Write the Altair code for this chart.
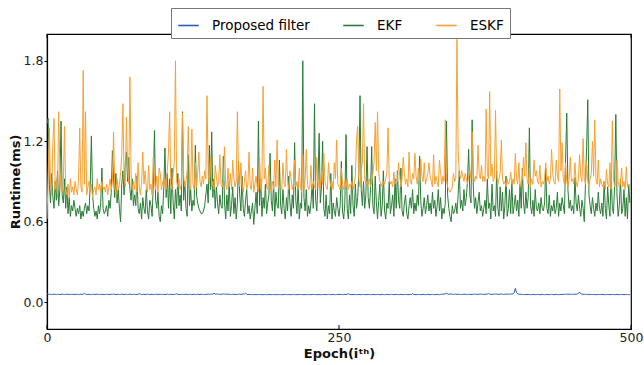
import altair as alt
import pandas as pd

series_names = ["Proposed filter", "EKF", "ESKF"]
series_colors = ["#2f5db5", "#2a7d36", "#f7a133"]
x_ticks = [0, 250, 500]
y_ticks = [0.0, 0.6, 1.2, 1.8]

# Proposed filter runtime, in 1/1000 ms, 25 epochs per row
proposed_rows = [
    [64,60,58,59,57,58,60,58,57,59,58,57,58,60,59,57,58,58,60,58,57,59,58,57,58],
    [59,58,57,58,60,58,59,66,60,58,57,59,58,57,58,59,57,58,60,58,57,58,59,58,57],
    [58,59,57,58,57,59,58,60,58,57,58,59,57,58,60,58,57,59,58,57,58,60,58,57,59],
    [58,57,59,58,64,59,57,58,59,57,58,60,58,57,58,59,57,58,58,60,57,58,59,57,58],
    [59,57,58,60,58,57,59,58,57,58,59,63,58,57,58,59,57,58,57,59,58,57,58,59,57],
    [58,59,57,58,60,58,57,59,58,57,58,57,59,60,58,61,59,60,68,60,62,59,61,58,59],
    [60,62,59,61,58,60,59,58,57,58,59,58,57,58,59,60,58,59,62,60,68,59,57,58,57],
    [57,56,57,56,57,56,57,57,56,57,56,57,56,57,56,57,57,56,57,56,57,56,57,56,57],
    [56,57,56,57,58,57,56,57,56,57,56,58,57,56,57,56,57,58,56,57,56,57,56,57,56],
    [57,56,57,58,57,56,57,56,57,56,57,56,58,57,56,57,58,57,56,57,58,57,56,57,58],
    [57,58,57,56,57,58,57,59,63,58,57,56,57,58,57,56,57,58,57,56,57,58,57,56,57],
    [58,57,56,57,58,57,56,57,58,57,56,57,58,57,56,57,58,57,56,57,58,57,56,57,58],
    [57,56,57,58,57,56,57,58,57,56,57,58,57,64,58,57,56,57,58,57,56,57,58,57,56],
    [57,58,57,56,57,58,57,56,57,58,57,56,58,60,59,62,60,70,61,59,60,62,59,58,60],
    [59,58,60,59,58,57,59,58,60,58,57,59,58,57,58,59,60,58,59,58,60,59,61,59,58],
    [60,59,61,64,60,59,58,60,59,61,60,59,58,60,62,59,58,60,59,61,60,59,62,60,63],
    [70,103,72,62,60,58,59,57,58,57,58,57,58,57,56,57,58,57,56,57,58,57,56,57,58],
    [57,56,57,58,57,56,57,58,57,56,57,58,57,56,57,58,57,58,59,58,59,60,59,58,59],
    [58,59,60,59,62,65,76,63,60,59,58,59,58,57,58,57,58,57,58,57,56,57,58,57,58],
    [57,58,57,56,57,58,57,56,57,58,57,56,57,58,57,56,57,58,57,56,57,58,57,56,57],
]

# EKF runtime, in 1/100 ms
ekf_rows = [
    [133,137,88,74,96,79,70,90,76,98,72,84,135,80,74,92,70,86,66,78,64,72,68,76,70],
    [64,70,66,72,62,68,64,70,74,66,72,68,88,124,80,70,64,68,62,72,66,74,100,70,66],
    [68,72,64,76,70,82,113,92,78,96,74,84,70,60,88,98,80,104,112,90,108,84,76,92,72],
    [80,72,94,70,66,74,62,78,70,66,84,68,62,76,72,64,88,128,76,70,82,64,60,72,66],
    [86,115,78,96,70,92,66,100,74,62,84,70,96,72,80,68,142,76,90,70,64,110,72,84,68],
    [76,72,117,80,74,70,68,66,66,68,72,80,88,74,117,84,127,78,92,70,86,74,66,80,72],
    [70,109,74,62,80,68,90,64,72,86,66,78,62,74,105,80,68,94,70,64,76,84,66,72,62],
    [68,74,58,70,82,66,135,72,92,64,78,70,88,66,74,80,111,76,68,90,64,82,72,70,106],
    [72,66,84,70,62,78,68,94,74,64,80,70,119,76,66,88,62,74,70,180,78,68,84,64,72],
    [66,74,88,70,148,76,68,90,126,74,86,120,70,64,80,62,72,66,96,62,74,68,64,78,70],
    [64,72,105,68,62,74,125,70,62,80,66,102,72,64,88,70,78,96,154,84,72,90,70,80,116],
    [78,70,84,116,72,66,94,74,62,76,88,64,72,98,68,62,74,70,90,66,72,80,64,92,70],
    [98,76,70,100,68,64,74,80,66,62,72,78,70,84,66,74,68,80,72,109,76,64,70,78,66],
    [72,80,68,74,66,82,70,76,64,72,84,68,78,62,70,66,74,135,80,70,64,60,72,66,68],
    [74,66,80,98,70,76,68,84,72,78,90,114,80,74,136,86,70,78,66,74,82,68,72,64,70],
    [76,66,92,70,74,62,88,68,72,64,98,70,64,86,68,82,62,72,94,64,70,84,66,90,66],
    [72,80,68,76,64,88,70,100,74,66,82,70,78,130,72,66,76,64,84,70,68,74,66,78,70],
    [68,74,100,70,66,80,64,72,68,76,66,70,82,64,74,68,78,72,66,106,141,84,70,76,68],
    [72,66,93,74,68,80,70,64,76,70,60,88,116,151,80,72,66,78,70,64,74,68,82,70,66],
    [74,64,90,70,62,86,72,64,96,70,66,88,140,80,64,72,92,66,70,84,64,78,62,88,74],
]

# ESKF runtime, in 1/100 ms
eskf_rows = [
    [62,96,130,88,80,118,137,84,92,78,142,100,86,82,90,131,84,80,88,78,92,82,86,80,90],
    [84,80,92,130,86,82,173,88,142,80,86,90,82,88,78,84,86,80,92,84,88,82,90,84,86],
    [82,88,80,86,92,84,90,127,86,80,92,84,88,96,110,148,92,86,138,100,88,168,96,84,90],
    [84,96,82,104,86,80,90,112,88,98,86,82,102,84,88,80,108,90,84,94,82,100,96,84,90],
    [86,92,84,98,112,142,88,84,96,104,180,90,86,92,84,88,141,94,86,90,98,131,88,84,129],
    [88,84,104,86,96,112,90,86,94,88,98,92,154,96,88,108,86,90,84,102,94,86,90,110,88],
    [86,90,116,88,84,100,86,96,84,106,92,86,90,142,94,86,104,88,82,90,98,84,88,112,86],
    [84,100,82,88,94,86,82,108,84,90,161,92,100,86,84,102,82,86,90,84,106,86,121,88,84],
    [86,84,104,88,86,114,90,84,98,92,84,88,106,86,90,84,100,86,82,110,84,92,114,88,84],
    [86,102,84,90,86,84,108,92,86,84,98,88,111,90,86,84,104,92,86,90,84,104,92,121,88],
    [86,84,100,88,84,90,86,92,84,88,86,90,84,88,94,121,131,92,86,98,104,148,92,88,90],
    [88,92,86,90,96,104,134,98,142,96,90,88,86,90,88,92,96,130,92,88,90,86,97,88,92],
    [90,104,94,86,92,108,96,88,92,86,112,90,88,96,92,111,94,88,100,90,107,94,90,104,88],
    [92,96,104,94,90,86,110,88,94,90,86,106,96,88,94,90,136,92,86,84,82,84,86,96,90],
    [92,196,114,96,92,98,94,90,96,92,88,94,98,92,127,96,90,94,92,117,96,92,102,90,94],
    [90,144,96,92,157,94,103,90,92,143,94,88,92,96,121,92,88,90,86,92,88,90,97,88,92],
    [88,111,92,88,104,86,90,92,108,94,119,92,88,100,86,92,88,106,94,98,90,88,102,86,90],
    [88,92,104,90,94,88,92,114,96,90,88,106,94,90,159,98,119,92,88,104,90,86,92,108,90],
    [92,88,104,90,86,92,110,94,90,122,92,88,104,90,86,92,96,120,94,136,92,88,106,86,92],
    [88,86,90,84,99,88,86,104,84,135,92,86,88,106,90,86,88,100,86,90,84,101,86,88,84],
]

proposed = [v / 1000 for row in proposed_rows for v in row]
ekf = [v / 100 for row in ekf_rows for v in row]
eskf = [v / 100 for row in eskf_rows for v in row]

frames = []
for name, vals in zip(series_names, [proposed, ekf, eskf]):
    frames.append(pd.DataFrame({"epoch": list(range(len(vals))), "runtime": vals, "series": name}))
df = pd.concat(frames, ignore_index=True)

color = alt.Color(
    "series:N",
    scale=alt.Scale(domain=series_names, range=series_colors),
    sort=series_names,
    legend=alt.Legend(
        title=None,
        orient="none",
        legendX=124,
        legendY=-26,
        direction="horizontal",
        symbolType="stroke",
        symbolSize=420,
        symbolStrokeWidth=1.6,
        labelFontSize=13.5,
        labelOffset=12,
        columnPadding=30,
        padding=6,
        strokeColor="#777777",
        fillColor="white",
        labelFont="DejaVu Sans",
    ),
)

x_enc = alt.X(
    "epoch:Q",
    scale=alt.Scale(domain=[0, 500], nice=False, zero=False),
    axis=alt.Axis(values=x_ticks, title="Epoch(iᵗʰ)", format="d", ticks=False,
                  labelFlush=False, labelPadding=2, titlePadding=4),
)
y_enc = alt.Y(
    "runtime:Q",
    scale=alt.Scale(domain=[-0.2, 2.0], nice=False, zero=False),
    axis=alt.Axis(values=y_ticks, format=".1f", title="Runtime(ms)", tickSize=3,
                  labelFlush=False, labelPadding=1, titlePadding=1),
)

layers = []
for name in series_names:
    layers.append(
        alt.Chart(df)
        .transform_filter(alt.datum.series == name)
        .mark_line(strokeWidth=1, clip=True)
        .encode(x=x_enc, y=y_enc, color=color)
    )

tick_df = pd.DataFrame({"epoch": x_ticks})
bottom_ticks = alt.Chart(tick_df).mark_rule(color="black", strokeWidth=1).encode(
    x=alt.X("epoch:Q"), y=alt.value(295), y2=alt.value(291)
)
top_ticks = alt.Chart(tick_df).mark_rule(color="black", strokeWidth=1).encode(
    x=alt.X("epoch:Q"), y=alt.value(0), y2=alt.value(4)
)

chart = (
    alt.layer(*layers, bottom_ticks, top_ticks)
    .properties(
        width=584,
        height=295,
        autosize=alt.AutoSizeParams(type="none"),
        padding={"left": 47, "top": 34, "right": 13, "bottom": 36},
        background="white",
    )
    .configure_view(stroke="black", strokeWidth=1.2)
    .configure_axis(
        grid=False,
        domainColor="black",
        domainWidth=1.2,
        tickColor="black",
        labelFont="DejaVu Sans",
        labelFontSize=12.5,
        labelColor="#222222",
        titleFont="DejaVu Sans",
        titleFontSize=13,
        titleFontWeight="bold",
        titleColor="#111111",
    )
)

chart.save("out.html", embed_options={"renderer": "svg", "actions": False})
